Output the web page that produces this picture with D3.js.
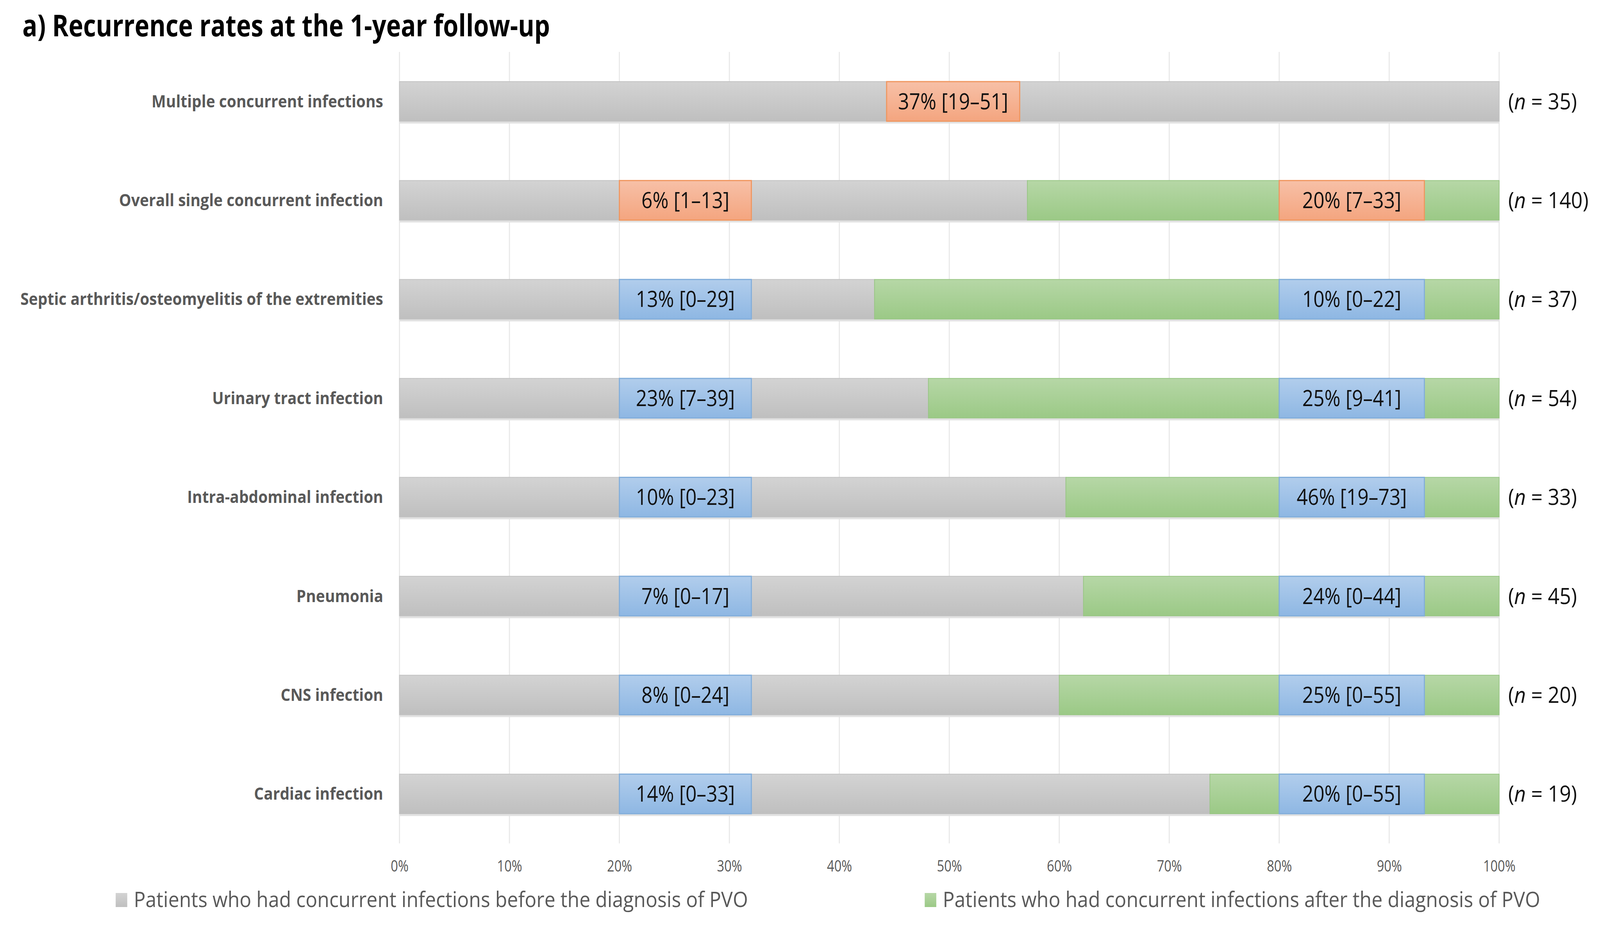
<!DOCTYPE html>
<html>
<head>
<meta charset="utf-8">
<title>Recurrence rates at the 1-year follow-up</title>
<script src="https://d3js.org/d3.v7.min.js"></script>
<style>
  html, body { margin: 0; padding: 0; width: 100%; height: 100%; overflow: hidden; background: #fff; }
  #chart svg { display: block; width: 100vw; height: 100vh; }
  text { font-family: "Open Sans", "Noto Sans", sans-serif; }
</style>
</head>
<body>
<div id="chart"></div>
<script>
// ---- data ----
const categories = [
  "Multiple concurrent infections",
  "Overall single concurrent infection",
  "Septic arthritis/osteomyelitis of the extremities",
  "Urinary tract infection",
  "Intra-abdominal infection",
  "Pneumonia",
  "CNS infection",
  "Cardiac infection"
]
// share of each bar (%) : before / after the diagnosis of PVO
const beforePct = [100, 57.1, 43.2, 48.1, 60.6, 62.2, 60.0, 73.7]
const afterPct = [0, 42.9, 56.8, 51.9, 39.4, 37.8, 40.0, 26.3]
const beforeLabels = [null, "6% [1–13]", "13% [0–29]", "23% [7–39]", "10% [0–23]", "7% [0–17]", "8% [0–24]", "14% [0–33]"]
const afterLabels = [null, "20% [7–33]", "10% [0–22]", "25% [9–41]", "46% [19–73]", "24% [0–44]", "25% [0–55]", "20% [0–55]"]
const overallLabels = ["37% [19–51]", null, null, null, null, null, null, null]
const nValues = [35, 140, 37, 54, 33, 45, 20, 19]
const xTicks = [0, 10, 20, 30, 40, 50, 60, 70, 80, 90, 100]
const seriesNames = [
  "Patients who had concurrent infections before the diagnosis of PVO",
  "Patients who had concurrent infections after the diagnosis of PVO"
]

// ---- layout ----
const W = 4426, H = 2369
const plot = { left: 1105, right: 4147, top: 133, bottom: 2160 }
// where the label boxes sit on the % axis
const boxBefore = [20, 32], boxAfter = [80, 93.2], boxOverall = [44.3, 56.4]

// stretch to the window so the layout fills it like the original figure
const svg = d3.select("#chart").append("svg")
  .attr("viewBox", `0 0 ${W} ${H}`).attr("preserveAspectRatio", "none")
const defs = svg.append("defs")

function grad(id, top, bottom) {
  const g = defs.append("linearGradient").attr("id", id).attr("x1", 0).attr("y1", 0).attr("x2", 0).attr("y2", 1)
  g.append("stop").attr("offset", "0%").attr("stop-color", top)
  g.append("stop").attr("offset", "100%").attr("stop-color", bottom)
}
grad("gGray", "#d3d3d3", "#bfbfbf")
grad("gGreen", "#b6d7a6", "#9bc986")
grad("gBlue", "#b1cdec", "#8eb7e3")
grad("gOrange", "#f7c0a7", "#f4a57f")

const x = d3.scaleLinear().domain([0, 100]).range([plot.left, plot.right])
const y = d3.scaleBand().domain(categories).range([plot.top, plot.bottom]).paddingInner(0.6).paddingOuter(0.3)

// condense Open Sans a little so it sits like Calibri
function condense(sel, k) {
  sel.each(function () {
    const w = this.getComputedTextLength()
    d3.select(this).attr("textLength", w * k).attr("lengthAdjust", "spacingAndGlyphs")
  })
}

// gridlines
svg.append("g").selectAll("line").data(xTicks).join("line")
  .attr("x1", d => x(d)).attr("x2", d => x(d))
  .attr("y1", plot.top).attr("y2", plot.bottom)
  .attr("stroke", "#e8e8e8").attr("stroke-width", 3)

// x axis labels
const xAxis = d3.axisBottom(x).tickValues(xTicks).tickFormat(d => d + "%").tickSize(0).tickPadding(0)
const ax = svg.append("g").attr("transform", `translate(0,${plot.bottom + 72})`).call(xAxis)
ax.select(".domain").remove()
ax.selectAll("text").attr("fill", "#595959").attr("font-size", 40).attr("dy", 0)
  .style("font-family", "'Open Sans', sans-serif")
condense(ax.selectAll("text"), 0.88)

const rows = categories.map((c, i) => ({ c, i }))
const bh = y.bandwidth()

// shadow under bars
svg.append("g").selectAll("rect").data(rows).join("rect")
  .attr("x", x(0)).attr("y", d => y(d.c) + 2)
  .attr("width", x(100) - x(0)).attr("height", bh + 4)
  .attr("fill", "#e2e2e2")

// before (gray) segments
svg.append("g").selectAll("rect").data(rows).join("rect")
  .attr("x", x(0)).attr("y", d => y(d.c))
  .attr("width", d => x(beforePct[d.i]) - x(0)).attr("height", bh)
  .attr("fill", "url(#gGray)").attr("stroke", "#c2c2c2").attr("stroke-width", 2)

// after (green) segments
svg.append("g").selectAll("rect").data(rows.filter(d => afterPct[d.i] > 0)).join("rect")
  .attr("x", d => x(beforePct[d.i])).attr("y", d => y(d.c))
  .attr("width", d => x(beforePct[d.i] + afterPct[d.i]) - x(beforePct[d.i])).attr("height", bh)
  .attr("fill", "url(#gGreen)").attr("stroke", "#98c684").attr("stroke-width", 2)

// label boxes
const boxes = []
rows.forEach(d => {
  const hot = d.i < 2
  if (overallLabels[d.i]) boxes.push({ c: d.c, span: boxOverall, t: overallLabels[d.i], hot })
  if (beforeLabels[d.i]) boxes.push({ c: d.c, span: boxBefore, t: beforeLabels[d.i], hot })
  if (afterLabels[d.i]) boxes.push({ c: d.c, span: boxAfter, t: afterLabels[d.i], hot })
})
const bx = svg.append("g").selectAll("g").data(boxes).join("g")
bx.append("rect")
  .attr("x", d => x(d.span[0])).attr("y", d => y(d.c))
  .attr("width", d => x(d.span[1]) - x(d.span[0])).attr("height", bh)
  .attr("fill", d => d.hot ? "url(#gOrange)" : "url(#gBlue)")
  .attr("stroke", d => d.hot ? "#f0965f" : "#82aedb").attr("stroke-width", 3)
const bt = bx.append("text")
  .attr("x", d => (x(d.span[0]) + x(d.span[1])) / 2).attr("y", d => y(d.c) + bh / 2 + 20)
  .attr("text-anchor", "middle").attr("font-size", 56).attr("fill", "#111")
  .text(d => d.t)
condense(bt, 0.96)

// category labels
const cl = svg.append("g").selectAll("text").data(rows).join("text")
  .attr("x", 1060).attr("y", d => y(d.c) + bh / 2 + 15)
  .attr("text-anchor", "end").attr("font-size", 43).attr("font-weight", 700).attr("fill", "#595959")
  .text(d => d.c)
condense(cl, 0.98)

// n labels
const nl = svg.append("g").selectAll("text").data(rows).join("text")
  .attr("x", 4172).attr("y", d => y(d.c) + bh / 2 + 20)
  .attr("font-size", 56).attr("fill", "#111")
nl.append("tspan").text("(")
nl.append("tspan").attr("font-style", "italic").text("n")
nl.append("tspan").text(d => " = " + nValues[d.i] + ")")

// legend
const legX = [320, 2558]
const lg = svg.append("g").selectAll("g").data(seriesNames).join("g")
lg.append("rect")
  .attr("x", (d, i) => legX[i]).attr("y", 2287).attr("width", 32).attr("height", 36)
  .attr("fill", (d, i) => i === 0 ? "url(#gGray)" : "url(#gGreen)")
const lt = lg.append("text")
  .attr("x", (d, i) => legX[i] + 50).attr("y", 2323)
  .attr("font-size", 54).attr("fill", "#595959")
  .text(d => d)
condense(lt, 1.0)

// title
const tt = svg.append("text").attr("x", 62).attr("y", 93)
  .attr("font-size", 77).attr("font-weight", 700).attr("fill", "#000")
  .text("a) Recurrence rates at the 1-year follow-up")
condense(tt, 0.89)
</script>
</body>
</html>
